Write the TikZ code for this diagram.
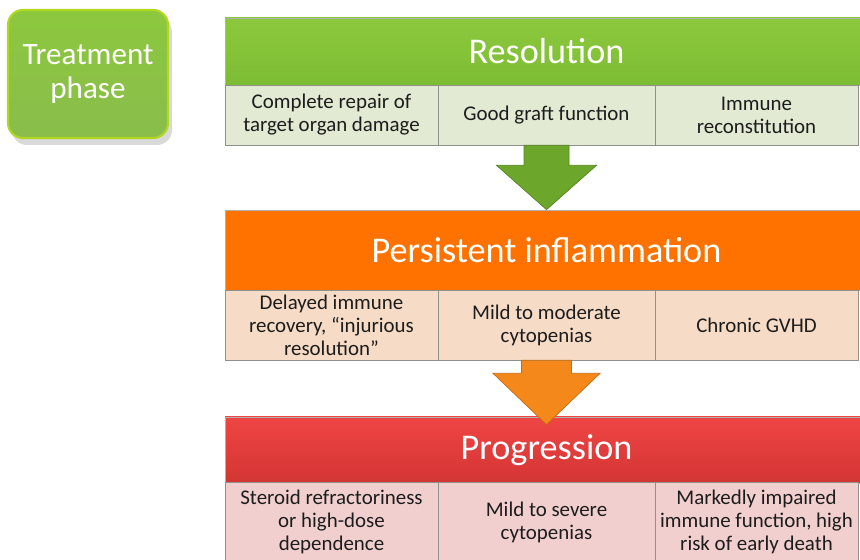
\documentclass[tikz,border=0pt]{standalone}
\usepackage{fontspec}
\setmainfont{Carlito}
\usetikzlibrary{calc, shadows}
\definecolor{LeafGreen}{HTML}{7DBD33}
\definecolor{LeafTop}{HTML}{8CC83E}
\definecolor{LeafDark}{HTML}{6CA62A}
\definecolor{LeafPale}{HTML}{E2EAD3}
\definecolor{PhaseGreen}{HTML}{8ABD4C}
\definecolor{FireOrange}{HTML}{FF7200}
\definecolor{FirePale}{HTML}{F6DCC6}
\definecolor{ArrowOrange}{HTML}{F5881A}
\definecolor{AlarmRed}{HTML}{E53A38}
\definecolor{AlarmTop}{HTML}{EF4544}
\definecolor{AlarmPale}{HTML}{F2CFCF}
\definecolor{CellEdge}{HTML}{8F918C}
\definecolor{CellInk}{HTML}{1C1C1C}
\tikzset{
  phase/.style={draw=LeafGreen!60!yellow, line width=1.2pt,
                top color=LeafTop, bottom color=PhaseGreen,
                rounded corners=0.3cm, align=center, text=white,
                minimum width=3.2cm, minimum height=2.56cm,
                font=\fontsize{17.7}{19.5}\selectfont,
                drop shadow={shadow xshift=0.08cm, shadow yshift=-0.14cm,
                             opacity=0.3}},
  % header bars run on past the right edge of the page
  stage/.style={draw=CellEdge!70, thin, align=center, text=white,
                minimum width=12.86cm, inner sep=0pt,
                font=\fontsize{20.6}{24}\selectfont},
  cell/.style={draw=CellEdge, thin, align=center, text=CellInk,
               inner sep=0pt, font=\fontsize{11.9}{13.1}\selectfont},
  blockarrow/.style={draw=#1!80!black, thin, fill=#1, line join=miter},
}

\begin{document}
\begin{tikzpicture}
  \useasboundingbox (0,0) rectangle (17.2,11.2);

  \node[phase] (phase) at (1.76, 9.72) {Treatment\\phase};

  % resolution
  \node[stage, top color=LeafTop, bottom color=LeafGreen,
        minimum height=1.34cm] (res) at (10.93, 10.17) {Resolution};
  \node[cell, fill=LeafPale, minimum width=4.26cm, minimum height=1.2cm]
    (repair) at (6.63, 8.9) {Complete repair of\\target organ damage};
  \node[cell, fill=LeafPale, minimum width=4.34cm, minimum height=1.2cm]
    (graft) at (10.93, 8.9) {Good graft function};
  \node[cell, fill=LeafPale, minimum width=4.06cm, minimum height=1.2cm]
    (immune) at (15.13, 8.9) {Immune\\reconstitution};

  % persistent inflammation
  \node[stage, fill=FireOrange, minimum height=1.6cm] (pers) at (10.93, 6.2)
    {Persistent inflammation};
  \node[cell, fill=FirePale, minimum width=4.26cm, minimum height=1.4cm]
    (delay) at (6.63, 4.7) {Delayed immune\\recovery, “injurious\\resolution”};
  \node[cell, fill=FirePale, minimum width=4.34cm, minimum height=1.4cm]
    (mildmod) at (10.93, 4.7) {Mild to moderate\\cytopenias};
  \node[cell, fill=FirePale, minimum width=4.06cm, minimum height=1.4cm]
    (gvhd) at (15.13, 4.7) {Chronic GVHD};

  % progression
  \node[stage, top color=AlarmTop, bottom color=AlarmRed!92!black,
        minimum height=1.32cm] (prog) at (10.93, 2.2) {Progression};
  \node[cell, fill=AlarmPale, minimum width=4.26cm, minimum height=1.6cm]
    (steroid) at (6.63, 0.76) {Steroid refractoriness\\or high-dose\\dependence};
  \node[cell, fill=AlarmPale, minimum width=4.34cm, minimum height=1.6cm]
    (mildsev) at (10.93, 0.76) {Mild to severe\\cytopenias};
  \node[cell, fill=AlarmPale, minimum width=4.06cm, minimum height=1.6cm]
    (impair) at (15.13, 0.76) {Markedly impaired\\immune function, high\\risk of early death};

  % block arrows: shaft under the cells, tip on the next header
  \draw[blockarrow=LeafDark]
    ($(graft.south)+(-0.45,0)$) -- ++(0,-0.4) -- ++(-0.55,0)
    -- (graft.south |- pers.north)
    -- ($(graft.south)+(1.0,-0.4)$) -- ++(-0.55,0)
    -- ($(graft.south)+(0.45,0)$) -- cycle;
  \draw[blockarrow=ArrowOrange]
    ($(mildmod.south)+(-0.5,0)$) -- ++(0,-0.26) -- ++(-0.57,0)
    -- ($(mildmod.south |- prog.north)+(0,-0.16)$)
    -- ($(mildmod.south)+(1.07,-0.26)$) -- ++(-0.57,0)
    -- ($(mildmod.south)+(0.5,0)$) -- cycle;
\end{tikzpicture}
\end{document}
